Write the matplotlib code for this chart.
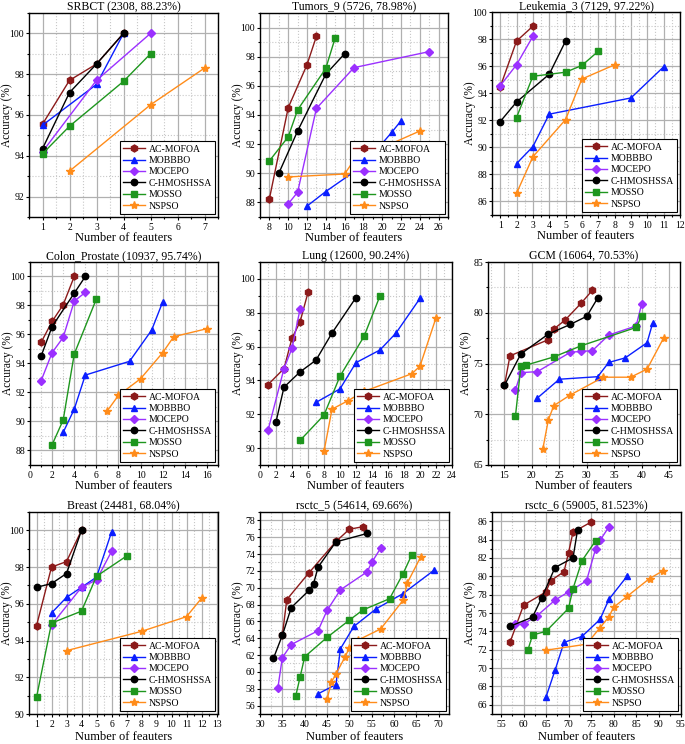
import matplotlib.pyplot as plt
from matplotlib.ticker import MultipleLocator

plt.rcParams['font.family'] = ['Liberation Serif', 'DejaVu Serif']

methods = ['AC-MOFOA', 'MOBBBO', 'MOCEPO', 'C-HMOSHSSA', 'MOSSO', 'NSPSO']
colors = ['#8B1A1A', '#0A1EFF', '#9B30FF', '#000000', '#1E961E', '#FF8C1A']
markers = ['h', '^', 'D', 'o', 's', '*']
msizes = [5, 5, 4.2, 4.6, 4.2, 6]

titles = ['SRBCT (2308, 88.23%)', 'Tumors_9 (5726, 78.98%)', 'Leukemia_3 (7129, 97.22%)',
          'Colon_Prostate (10937, 95.74%)', 'Lung (12600, 90.24%)', 'GCM (16064, 70.53%)',
          'Breast (24481, 68.04%)', 'rsctc_5 (54614, 69.66%)', 'rsctc_6 (59005, 81.523%)']

# data per dataset: (x, y) for each method in the order of `methods`
srbct = [
    ([1, 2, 3, 4], [95.55, 97.7, 98.5, 100]),
    ([1, 3, 4], [95.5, 97.5, 100]),
    ([1, 3, 5], [94.2, 97.7, 100]),
    ([1, 2, 3, 4], [94.35, 97.1, 98.5, 100]),
    ([1, 2, 4, 5], [94.1, 95.45, 97.65, 99.0]),
    ([2, 5, 7], [93.25, 96.5, 98.3]),
]
tumors9 = [
    ([8, 10, 12, 13], [88.25, 94.5, 97.45, 99.4]),
    ([12, 14, 18, 21, 22], [87.75, 88.75, 90.55, 92.8, 93.6]),
    ([10, 11, 13, 17, 25], [87.9, 88.7, 94.45, 97.25, 98.35]),
    ([9, 11, 14, 16], [90.0, 92.9, 96.8, 98.2]),
    ([8, 10, 11, 14, 15], [90.85, 92.5, 94.35, 97.2, 99.3]),
    ([10, 16, 17, 24], [89.75, 89.95, 90.9, 92.9]),
]
leukemia3 = [
    ([1, 2, 3], [94.45, 97.85, 98.95]),
    ([2, 3, 4, 9, 11], [88.8, 90.05, 92.45, 93.65, 95.95]),
    ([1, 2, 3], [94.55, 96.1, 98.2]),
    ([1, 2, 4, 5], [91.9, 93.35, 95.4, 97.85]),
    ([2, 3, 5, 6, 7], [92.2, 95.25, 95.55, 96.05, 97.1]),
    ([2, 3, 5, 6, 8], [86.6, 89.3, 92.05, 95.05, 96.1]),
]
colon = [
    ([1, 2, 3, 4], [95.45, 96.9, 98.05, 100]),
    ([3, 4, 5, 9, 11, 12], [89.25, 90.85, 93.2, 94.15, 96.3, 98.25]),
    ([1, 2, 3, 4, 5], [92.8, 94.75, 95.8, 98.3, 98.9]),
    ([1, 2, 4, 5], [94.5, 96.55, 98.85, 100]),
    ([2, 3, 4, 6], [88.4, 90.1, 94.65, 98.45]),
    ([7, 8, 10, 12, 13, 16], [90.75, 91.8, 92.95, 94.75, 95.85, 96.4]),
]
lung = [
    ([1, 3, 4, 5, 6], [93.75, 94.7, 96.5, 97.45, 99.2]),
    ([7, 10, 12, 15, 17, 20], [92.7, 93.5, 95.05, 95.8, 96.8, 98.85]),
    ([1, 3, 4, 5], [91.05, 94.7, 95.9, 98.2]),
    ([2, 3, 5, 7, 9, 12], [91.55, 93.6, 94.5, 95.2, 96.8, 98.9]),
    ([5, 8, 10, 13, 15], [90.45, 91.95, 94.25, 96.6, 99.0]),
    ([8, 9, 11, 13, 19, 20, 22], [89.8, 92.3, 92.8, 93.35, 94.4, 94.85, 97.7]),
]
gcm = [
    ([15, 16, 23, 24, 26, 29, 31], [72.85, 75.75, 77.35, 78.4, 79.25, 80.95, 82.2]),
    ([21, 25, 32, 34, 37, 41, 42], [71.6, 73.45, 73.7, 75.1, 75.55, 77.05, 78.95]),
    ([17, 18, 21, 27, 29, 31, 34, 39, 40], [72.4, 74.1, 74.2, 76.1, 76.2, 76.25, 77.8, 78.7, 80.85]),
    ([15, 18, 23, 27, 30, 32], [72.85, 75.95, 77.9, 78.85, 79.65, 81.45]),
    ([17, 18, 19, 24, 29, 39, 40], [69.8, 74.75, 74.85, 75.65, 76.75, 78.55, 79.65]),
    ([22, 23, 24, 27, 33, 38, 41, 44], [66.6, 69.45, 70.85, 71.9, 73.65, 73.65, 74.45, 77.5]),
]
breast = [
    ([1, 2, 3, 4], [94.8, 98.0, 98.3, 100]),
    ([2, 3, 4, 5, 6], [95.5, 96.35, 96.9, 97.45, 99.9]),
    ([2, 4, 5, 6], [94.85, 96.9, 97.3, 98.85]),
    ([1, 2, 3, 4], [96.9, 97.1, 97.65, 100]),
    ([1, 2, 4, 5, 7], [90.9, 94.95, 95.6, 97.5, 98.6]),
    ([3, 8, 11, 12], [93.45, 94.5, 95.3, 96.3]),
]
rsctc5 = [
    ([35, 36, 41, 47, 50, 53], [64.35, 68.6, 71.8, 75.5, 76.95, 77.25]),
    ([43, 47, 48, 51, 56, 62, 69], [57.4, 58.5, 62.75, 65.4, 67.5, 69.3, 72.1]),
    ([34, 35, 37, 43, 45, 48, 54, 55, 57], [58.1, 61.7, 63.25, 64.9, 67.3, 69.75, 71.9, 73.0, 74.7]),
    ([33, 35, 37, 41, 42, 43, 47, 54], [61.6, 64.35, 67.65, 69.7, 70.5, 72.45, 75.45, 76.45]),
    ([38, 39, 40, 45, 50, 53, 59, 62, 64], [57.15, 59.45, 61.8, 64.1, 66.15, 67.35, 68.7, 71.65, 73.95]),
    ([45, 46, 47, 49, 50, 52, 57, 62, 63, 66], [56.75, 58.8, 59.75, 61.75, 62.85, 63.8, 65.1, 68.5, 70.6, 73.7]),
]
rsctc6 = [
    ([57, 60, 65, 66, 69, 70, 71, 75], [72.8, 76.85, 78.3, 79.5, 80.5, 82.55, 84.8, 85.9]),
    ([65, 67, 69, 73, 77, 79, 83], [66.85, 69.75, 72.8, 73.45, 75.3, 77.5, 80.0]),
    ([58, 60, 63, 67, 70, 74, 76, 77, 79], [74.75, 74.8, 75.7, 77.4, 78.3, 79.5, 82.95, 83.9, 85.4]),
    ([57, 62, 64, 67, 71, 72], [74.55, 75.55, 77.6, 80.95, 82.0, 85.0]),
    ([61, 62, 65, 70, 71, 73, 76], [72.0, 73.6, 74.0, 76.5, 78.65, 81.7, 83.85]),
    ([65, 74, 77, 79, 80, 83, 88, 91], [71.95, 72.6, 74.4, 75.6, 76.6, 77.8, 79.75, 80.6]),
]
datasets = [srbct, tumors9, leukemia3, colon, lung, gcm, breast, rsctc5, rsctc6]

# axis settings per panel
xlims = [(0.5, 7.5), (7, 27), (0.5, 12), (0, 17), (0, 24), (12, 47), (0.5, 13.1), (30, 72.3), (53, 95)]
xsteps = [(1, 0.5), (2, 1), (1, 0.5), (2, 1), (2, 1), (5, 2.5), (1, 0.5), (5, 2.5), (5, 2.5)]
ylims = [(91, 101), (87, 101), (85, 100), (87, 101), (89, 101), (65, 85), (90, 101), (55, 79), (65, 87)]
ysteps = [(2, 1), (2, 1), (2, 1), (2, 1), (2, 1), (5, 2.5), (2, 1), (2, 1), (2, 1)]

# axes boxes in pixels: left, top, right, bottom
W, H = 685, 744
boxes = [(29, 13, 218, 217), (260, 13, 448, 217), (492, 12, 680, 215),
         (30, 262, 218, 465), (260, 262, 452, 465), (488, 262, 680, 465),
         (29, 512, 218, 714), (260, 512, 449, 714), (492, 512, 681, 714)]

fig = plt.figure(figsize=(6.85, 7.44), dpi=100)

for i, data in enumerate(datasets):
    l, t, r, b = boxes[i]
    ax = fig.add_axes([l / W, 1 - b / H, (r - l) / W, (b - t) / H])
    for j, (xs, ys) in enumerate(data):
        ax.plot(xs, ys, color=colors[j], marker=markers[j], markersize=msizes[j],
                linewidth=1.0, label=methods[j], zorder=3)
    ax.set_xlim(*xlims[i])
    ax.set_ylim(*ylims[i])
    ax.xaxis.set_major_locator(MultipleLocator(xsteps[i][0]))
    ax.xaxis.set_minor_locator(MultipleLocator(xsteps[i][1]))
    ax.yaxis.set_major_locator(MultipleLocator(ysteps[i][0]))
    ax.yaxis.set_minor_locator(MultipleLocator(ysteps[i][1]))
    ax.grid(which='major', color='#b0b0b0', linewidth=0.9)
    ax.grid(which='minor', color='#c8c8c8', linestyle=':', linewidth=0.8)
    ax.set_axisbelow(True)
    ax.tick_params(which='both', direction='out', labelsize=7, width=0.8, pad=1.5)
    ax.tick_params(axis='y', which='both', pad=1)
    ax.tick_params(which='major', length=2.5)
    ax.tick_params(which='minor', length=1.6)
    for s in ax.spines.values():
        s.set_linewidth(1.0)
    ax.set_title(titles[i], fontsize=8.5, pad=2)
    ax.set_xlabel('Number of feauters', fontsize=9, labelpad=2 if i >= 6 else 0)
    ax.set_ylabel('Accuracy (%)', fontsize=8.3)
    ax.yaxis.set_label_coords(-16 / (r - l), 0.5)
    leg = ax.legend(loc='lower right', fontsize=7, labelspacing=0.25, handlelength=2.2,
                    handletextpad=0.4, borderpad=0.35, borderaxespad=0.3, fancybox=False,
                    framealpha=1)
    leg.get_frame().set_edgecolor('black')
    leg.get_frame().set_linewidth(0.8)

fig.savefig('out.png', dpi=100)
